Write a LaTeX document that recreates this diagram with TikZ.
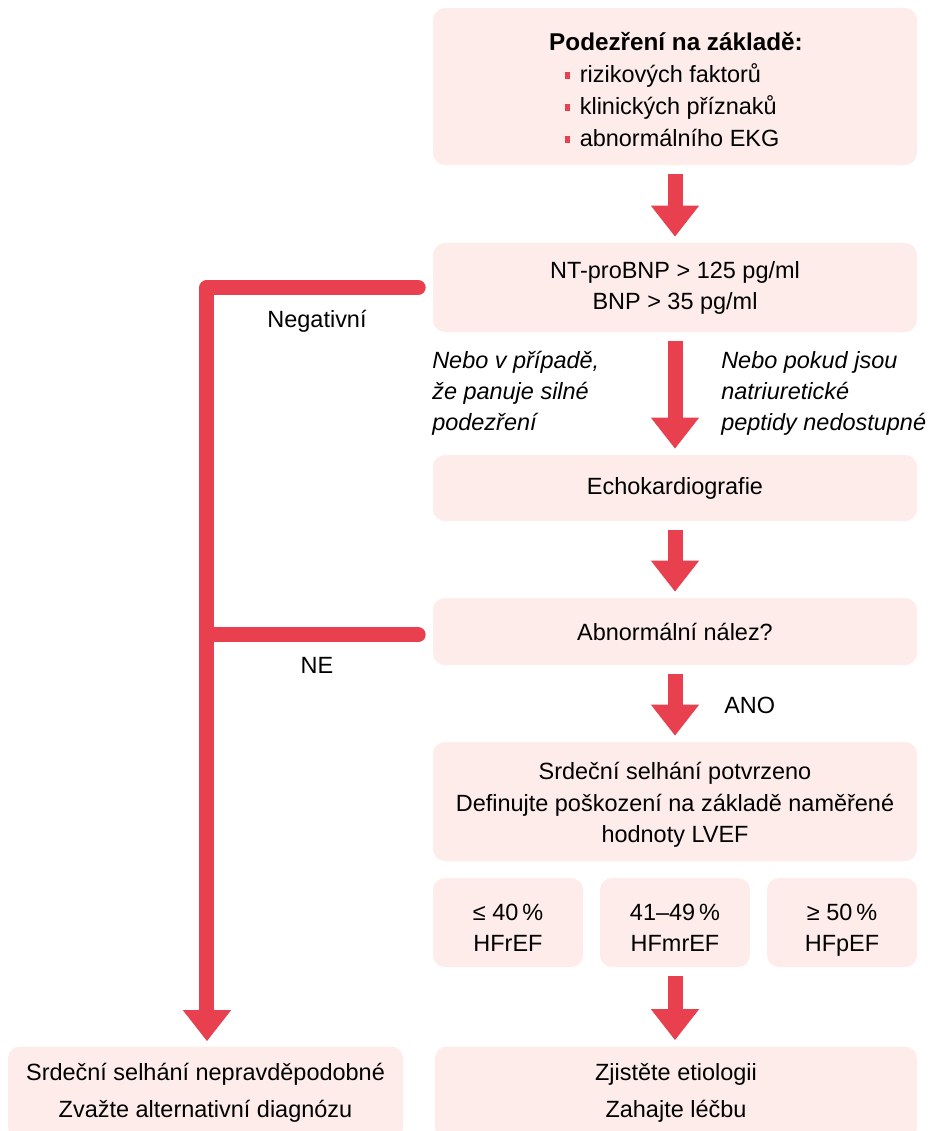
\documentclass[tikz,border=0pt]{standalone}
\usepackage{fontspec}
\setmainfont{Liberation Sans}
\usetikzlibrary{arrows.meta}
\definecolor{hfred}{HTML}{E8404F}
\definecolor{hfbox}{HTML}{FDECEA}
\newcommand{\redsq}{{\color{hfred}\rule[2.8pt]{3.9pt}{4.6pt}}\hspace{7pt}}
\begin{document}
\begin{tikzpicture}[x=0.75pt,y=-0.75pt,
  box/.style={fill=hfbox, rounded corners=9pt, inner sep=0pt, align=center,
    font=\fontsize{17.6}{23.25}\selectfont},
  txt/.style={inner sep=0pt, font=\fontsize{17.6}{23.25}\selectfont},
  ctxt/.style={inner sep=0pt, align=center, font=\fontsize{17.6}{23.25}\selectfont},
  itxt/.style={inner sep=0pt, align=left, font=\fontsize{17.6}{23.25}\selectfont\itshape},
  fat/.style={draw=hfred, line width=11.25pt,
    -{Triangle[width=34.5pt,length=23.25pt]}, shorten <=6.75pt, shorten >=4.5pt},
  fatside/.style={draw=hfred, line width=11.25pt, line join=round, line cap=round},
  fatsidearrow/.style={fatside, -{Triangle[width=34.5pt,length=23.25pt]}, shorten >=3.75pt}
]
\useasboundingbox (0,0) rectangle (933,1131);
\clip (0,0) rectangle (933,1131);

% boxes
\node[box, minimum width=363pt, minimum height=117.75pt] (b1) at (675,86.5) {};
\node[inner sep=0pt, font=\fontsize{18.2}{23.25}\selectfont\bfseries] (h1) at (676,42) {Podezření na základě:};
\node[inner sep=0pt, anchor=west, align=left, font=\fontsize{17.6}{24}\selectfont] (l1) at (565,105)
  {\redsq rizikových faktorů\\ \redsq klinických příznaků\\ \redsq abnormálního EKG};

\node[box, minimum width=363pt, minimum height=66.75pt] (b2) at (675,287.5)
  {NT-proBNP > 125 pg/ml\\BNP > 35 pg/ml};
\node[box, minimum width=363pt, minimum height=49.5pt] (b3) at (675,488) {Echokardiografie};
\node[box, minimum width=363pt, minimum height=50.25pt] (b4) at (675,631.5) {Abnormální nález?};
\node[box, minimum width=363pt, minimum height=89.25pt] (b5) at (675,801.5) {};
\node[ctxt, font=\fontsize{17.6}{23.6}\selectfont] (t5) at (675,805)
  {Srdeční selhání potvrzeno\\Definujte poškození na základě naměřené\\hodnoty LVEF};
\node[box, minimum width=112.5pt, minimum height=66.75pt] (s1) at (508,922.5) {};
\node[box, minimum width=112.5pt, minimum height=66.75pt] (s2) at (675,922.5) {};
\node[box, minimum width=112.5pt, minimum height=66.75pt] (s3) at (842,922.5) {};
\node[ctxt] (ts1) at (508,929.7) {\strut≤ 40\,\%\\\strut HFrEF};
\node[ctxt] (ts2) at (675,929.7) {\strut 41–49\,\%\\\strut HFmrEF};
\node[ctxt] (ts3) at (842,929.7) {\strut≥ 50\,\%\\\strut HFpEF};
\node[box, minimum width=296.25pt, minimum height=69.75pt, font=\fontsize{17.6}{27.75}\selectfont] (b6) at (205.5,1093)
  {Srdeční selhání nepravděpodobné\\Zvažte alternativní diagnózu};
\node[box, minimum width=361.5pt, minimum height=69.75pt, font=\fontsize{17.6}{27.75}\selectfont] (b7) at (676,1093)
  {Zjistěte etiologii\\Zahajte léčbu};

% labels
\node[itxt, anchor=west] (n1) at (432,393) {Nebo v případě,\\že panuje silné\\podezření};
\node[itxt, anchor=west] (n2) at (721,393) {Nebo pokud jsou\\natriuretické\\peptidy nedostupné};
\node[txt] (neg) at (317,321) {Negativní};
\node[txt] (ne) at (317,665) {NE};
\node[txt, anchor=west] (ano) at (724,705) {ANO};

% main arrows
\draw[fat] (b1.south) -- (b2.north);
\draw[fat] (b2.south) -- (b3.north);
\draw[fat] (b3.south) -- (b4.north);
\draw[fat] (b4.south) -- (b5.north);
\draw[fat] (s2.south) -- (s2.south |- b7.north);

% side connectors
\coordinate (c2) at ([xshift=-10.9pt]b2.west);
\coordinate (c4) at ([xshift=-10.9pt,yshift=-2.6pt]b4.west);
\coordinate (v6) at ([xshift=1.1pt]b6.north);
\draw[fatsidearrow] (c2) -| (v6);
\draw[fatside] (c4) -- (c4 -| v6);
\end{tikzpicture}
\end{document}
